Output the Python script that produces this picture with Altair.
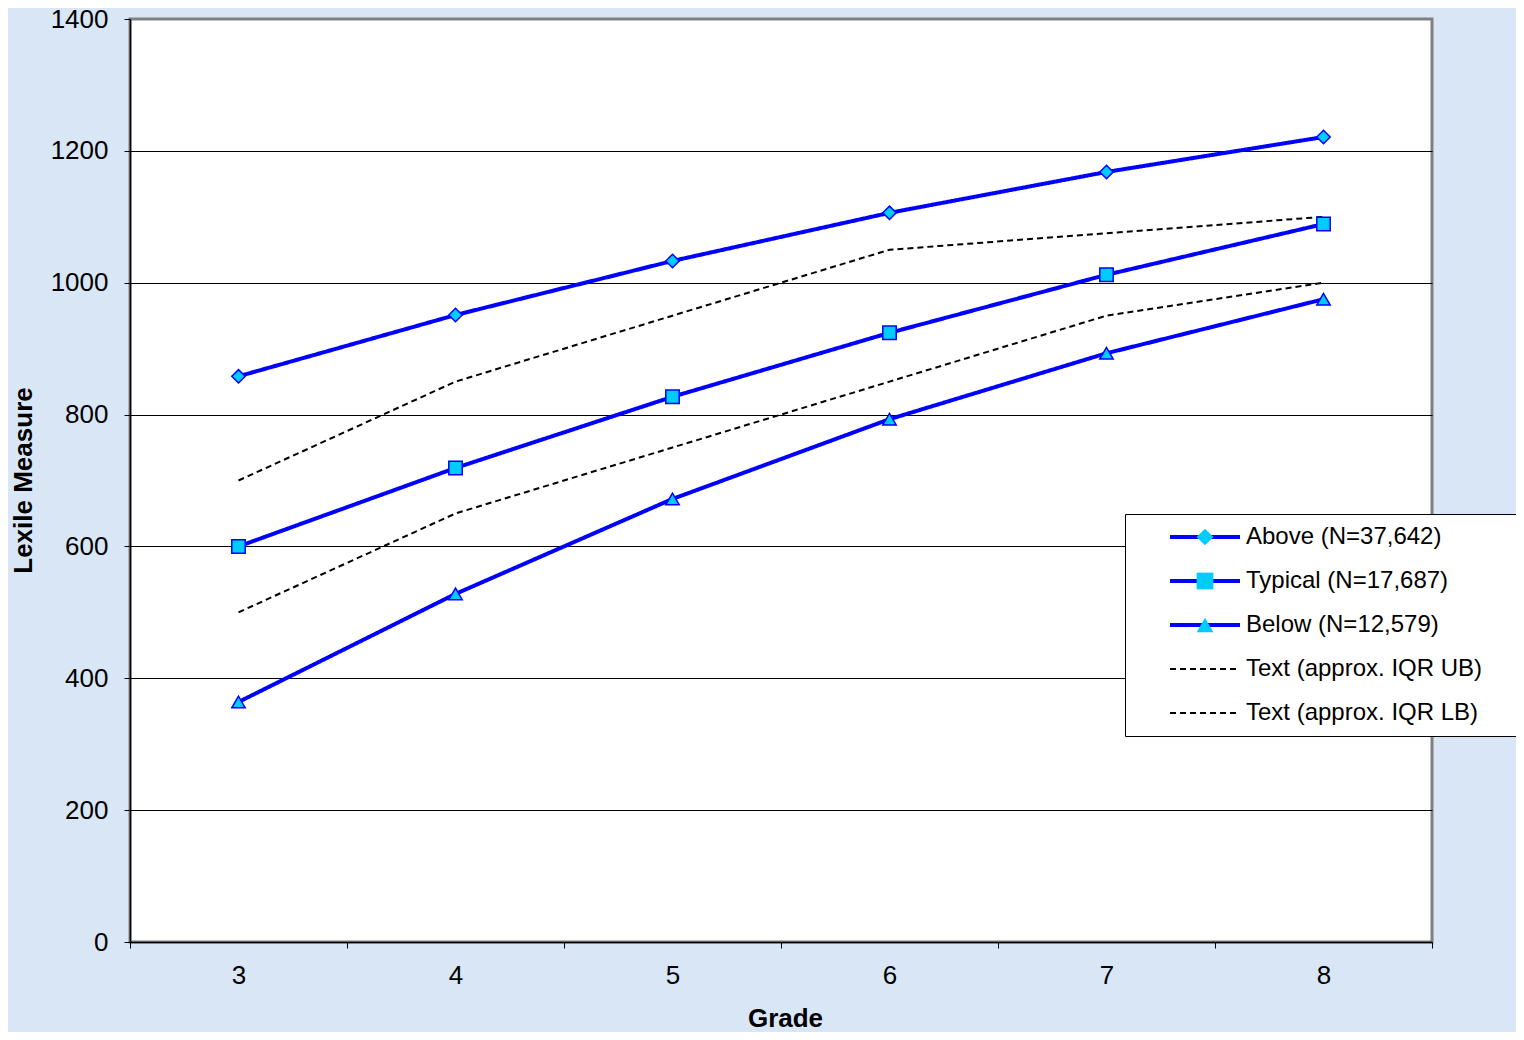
import altair as alt
import pandas as pd

grades = [3, 4, 5, 6, 7, 8]
above = [858, 951, 1033, 1106, 1168, 1221]
typical = [600, 719, 827, 924, 1012, 1089]
below = [364, 528, 672, 793, 893, 975]
iqr_ub = [700, 850, 950, 1050, 1075, 1100]
iqr_lb = [500, 650, 750, 850, 950, 1000]

series_names = [
    "Above (N=37,642)",
    "Typical (N=17,687)",
    "Below (N=12,579)",
    "Text (approx. IQR UB)",
    "Text (approx. IQR LB)",
]
series_values = [above, typical, below, iqr_ub, iqr_lb]
line_colors = ["#0000ff", "#0000ff", "#0000ff", "#000000", "#000000"]
line_dashes = [[1, 0], [1, 0], [1, 0], [6, 4], [6, 4]]
line_widths = [4, 4, 4, 2, 2]
marker_series = series_names[:3]
marker_shapes = ["diamond", "square", "triangle-up"]

x_tick_values = [2.5, 3, 3.5, 4, 4.5, 5, 5.5, 6, 6.5, 7, 7.5, 8, 8.5]
y_tick_values = [0, 200, 400, 600, 800, 1000, 1200, 1400]

rows = []
for name, vals in zip(series_names, series_values):
    for g, v in zip(grades, vals):
        rows.append({"grade": g, "value": v, "series": name})
df = pd.DataFrame(rows)

FONT = "Liberation Sans"

x_enc = alt.X(
    "grade:Q",
    scale=alt.Scale(domain=[2.5, 8.5], nice=False, zero=False),
    axis=alt.Axis(
        values=x_tick_values,
        labelExpr="datum.value % 1 == 0 ? format(datum.value, 'd') : ''",
        tickOpacity={"condition": {"test": "datum.value % 1 == 0", "value": 0}, "value": 1},
        tickSize=6,
        tickColor="#000000",
        tickWidth=1,
        domainColor="#000000",
        domainWidth=1.5,
        grid=False,
        labelFontSize=26,
        labelFont=FONT,
        labelColor="#000000",
        labelPadding=14,
        labelFlush=False,
        labelOverlap=False,
        title="Grade",
        titleFont=FONT,
        titleFontSize=26,
        titleFontWeight="bold",
        titleColor="#000000",
        titleX=655,
        titleY=84,
        titleBaseline="alphabetic",
        titleAlign="center",
    ),
)
y_enc = alt.Y(
    "value:Q",
    scale=alt.Scale(domain=[0, 1400], nice=False),
    axis=alt.Axis(
        values=y_tick_values,
        format="d",
        tickSize=6,
        tickColor="#000000",
        domainColor="#000000",
        domainWidth=1.5,
        grid=True,
        gridColor="#000000",
        gridWidth=1,
        gridOpacity={"condition": {"test": "datum.value >= 1400", "value": 0}, "value": 1},
        labelFontSize=26,
        labelFont=FONT,
        labelColor="#000000",
        labelPadding=16,
        title="Lexile Measure",
        titleFont=FONT,
        titleFontSize=26,
        titleFontWeight="bold",
        titleColor="#000000",
        titleX=-107,
        titleY=461,
        titleBaseline="middle",
        titleAlign="center",
    ),
)

legend_lines = alt.Legend(
    orient="none",
    legendX=995,
    legendY=495,
    title=" ",
    titleOrient="right",
    titleOpacity=0,
    titlePadding=40,
    titleFontSize=10,
    symbolType="M-5,0L5,0",
    symbolSize=196,
    symbolOffset=57,
    labelOffset=29,
    labelLimit=500,
    labelFont=FONT,
    labelFontSize=24,
    labelColor="#000000",
    rowPadding=20,
    padding=11,
    fillColor="#ffffff",
    strokeColor="#000000",
    zindex=1,
)

legend_markers = alt.Legend(
    orient="none",
    legendX=995,
    legendY=495,
    title=None,
    symbolSize=280,
    symbolOffset=57,
    symbolFillColor="#00ccff",
    symbolStrokeColor="#0000ff",
    symbolStrokeWidth=1.5,
    labelOffset=29,
    labelLimit=500,
    labelFont=FONT,
    labelFontSize=24,
    labelOpacity=0,
    rowPadding=20,
    padding=11,
    zindex=2,
)

lines = alt.Chart(df).mark_line().encode(
    x=x_enc,
    y=y_enc,
    color=alt.Color(
        "series:N",
        scale=alt.Scale(domain=series_names, range=line_colors),
        legend=legend_lines,
    ),
    strokeDash=alt.StrokeDash(
        "series:N",
        scale=alt.Scale(domain=series_names, range=line_dashes),
        legend=legend_lines,
    ),
    strokeWidth=alt.StrokeWidth(
        "series:N",
        scale=alt.Scale(type="ordinal", domain=series_names, range=line_widths),
        legend=legend_lines,
    ),
    detail="series:N",
)

points = alt.Chart(df).transform_filter(
    alt.FieldOneOfPredicate(field="series", oneOf=marker_series)
).mark_point(
    filled=True, fill="#00ccff", stroke="#0000ff", strokeWidth=1.5, size=180, opacity=1
).encode(
    x="grade:Q",
    y="value:Q",
    shape=alt.Shape(
        "series:N",
        scale=alt.Scale(domain=marker_series, range=marker_shapes),
        legend=legend_markers,
    ),
)

chart = alt.layer(lines, points).properties(
    width=1302,
    height=923,
    autosize=alt.AutoSizeParams(type="none"),
    padding={"left": 122, "top": 11, "right": 84, "bottom": 90},
    background="#d8e6f6",
).configure_view(
    fill="#ffffff",
    stroke="#808080",
    strokeWidth=3,
)

chart.save("out.html", embed_options={"renderer": "svg", "actions": False})
